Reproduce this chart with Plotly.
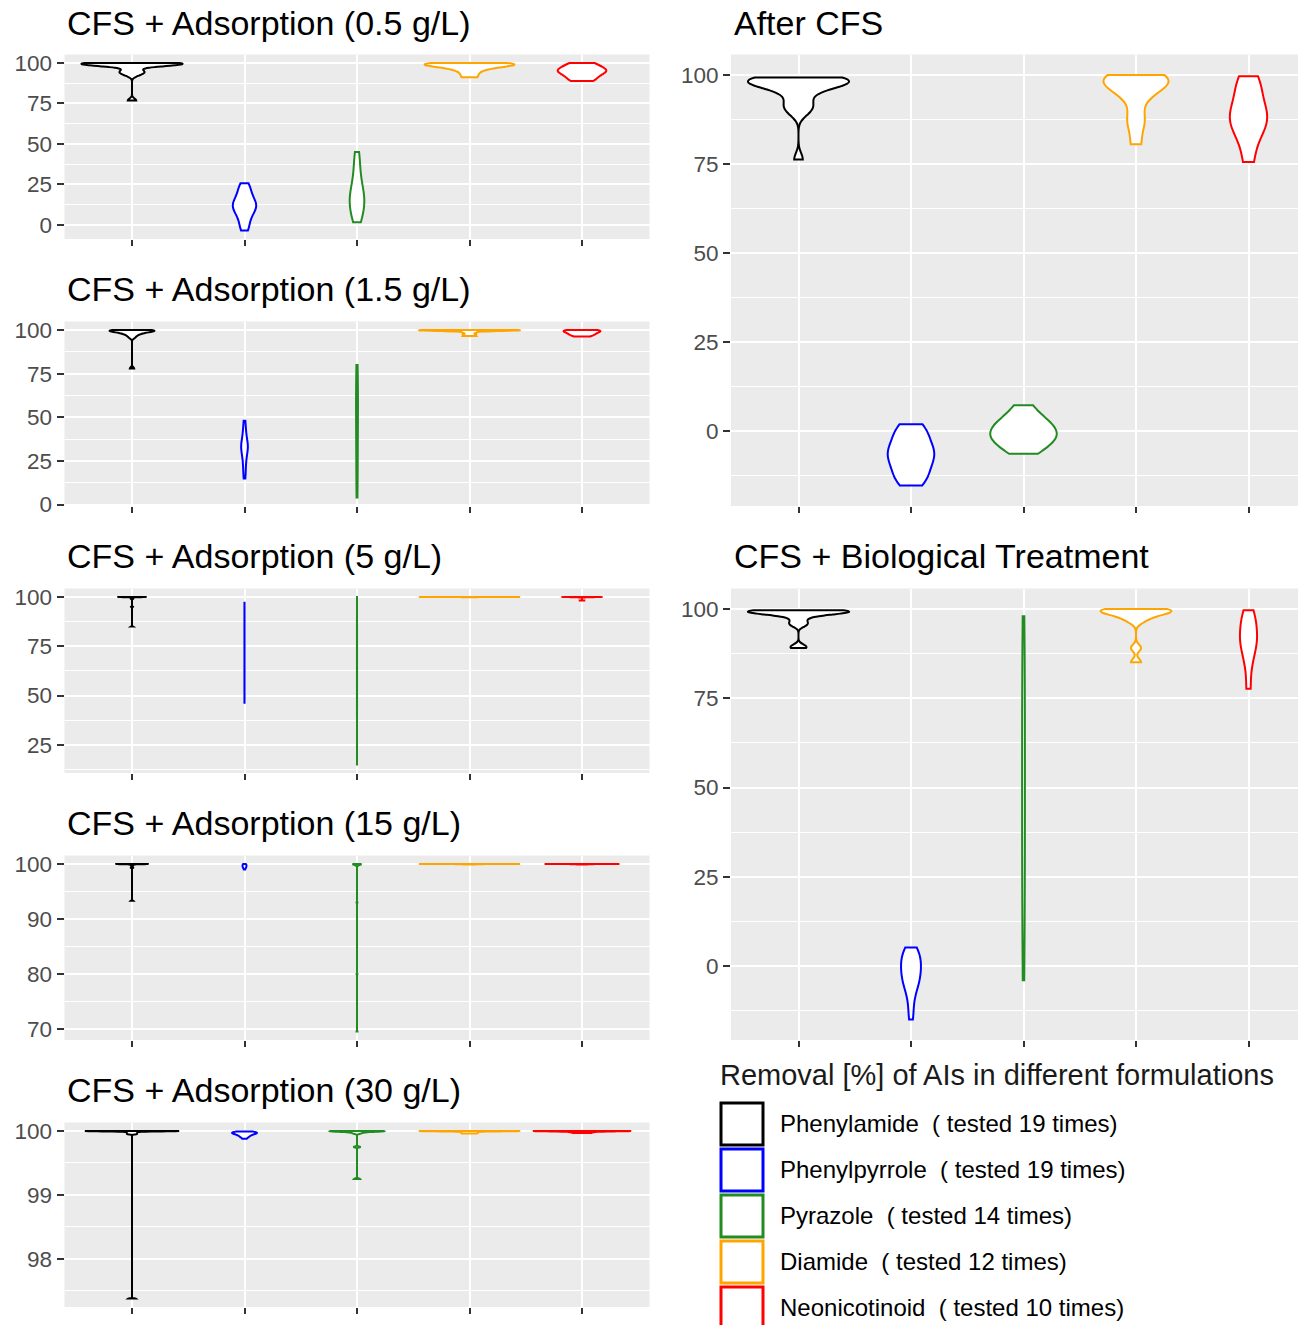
import numpy as np
import plotly.graph_objects as go

# ---------------- data ----------------
groups = ["Phenylamide", "Phenylpyrrole", "Pyrazole", "Diamide", "Neonicotinoid"]
tested = [19, 19, 14, 12, 10]
colors = ["#000000", "#0000FF", "#228B22", "#FFA500", "#FF0000"]
legend_title = "Removal [%] of AIs in different formulations"

titles = ["CFS + Adsorption (0.5 g/L)", "CFS + Adsorption (1.5 g/L)",
          "CFS + Adsorption (5 g/L)", "CFS + Adsorption (15 g/L)",
          "CFS + Adsorption (30 g/L)", "After CFS", "CFS + Biological Treatment"]

y_ticks = [[0, 25, 50, 75, 100], [0, 25, 50, 75, 100], [25, 50, 75, 100],
           [70, 80, 90, 100], [98, 99, 100], [0, 25, 50, 75, 100], [0, 25, 50, 75, 100]]

# Removal [%] per group (Phenylamide, Phenylpyrrole, Pyrazole, Diamide, Neonicotinoid)
ads_0_5 = [
    [100, 100, 100, 100, 99.9, 99.8, 99.7, 99.5, 99.3, 99.1, 98.9, 98.6, 98.2, 97.6, 95.3, 94.6, 93.8, 92.4, 76.8],
    [-3.7, -1.5, 1.5, 4.0, 6.0, 7.5, 9.0, 10.0, 11.0, 11.8, 12.5, 13.5, 14.5, 16.0, 17.5, 19.5, 21.5, 23.5, 25.6],
    [1.4, 4.5, 7.5, 10.0, 12.5, 14.5, 16.5, 18.5, 21.0, 24.0, 28.0, 33.0, 39.0, 45.0],
    [100, 99.9, 99.7, 99.4, 99.0, 98.6, 98.1, 97.5, 96.7, 95.5, 93.5, 91.1],
    [100, 98.8, 97.2, 96.0, 95.3, 94.6, 93.5, 92.0, 90.3, 88.8],
]
ads_1_5 = [
    [100, 100, 100, 99.9, 99.8, 99.7, 99.6, 99.5, 99.3, 99.1, 98.9, 98.7, 98.4, 98.1, 97.7, 97.2, 96.5, 95.5, 78.0],
    [15, 18, 21, 24, 26, 28, 30, 31, 32, 33, 33.5, 34, 35, 36, 38, 40, 42, 45, 48],
    [4, 10, 18, 25, 32, 40, 45, 50, 55, 60, 65, 70, 75, 80],
    [100, 100, 100, 100, 99.9, 99.8, 99.7, 99.55, 99.35, 98.5, 97.5, 96.5],
    [100, 100, 99.7, 99.3, 98.9, 98.5, 98.0, 97.5, 96.9, 96.3],
]
ads_5 = [
    [100, 100, 100, 100, 100, 100, 100, 100, 100, 99.98, 99.96, 99.93, 99.9, 99.85, 99.8, 99.6, 99.0, 95.0, 85.0],
    [46.4, 49, 52, 55, 58, 61, 64, 67, 70, 72, 75, 78, 81, 84, 87, 90, 93, 95, 97.1],
    [15, 22, 30, 38, 46, 54, 60, 64, 68, 75, 82, 90, 96, 100],
    [100, 100, 100, 100, 100, 100, 100, 99.98, 99.96, 99.94, 99.9, 99.85],
    [100, 100, 100, 100, 100, 99.97, 99.93, 99.88, 99.8, 98.2],
]
ads_15 = [
    [100, 100, 100, 100, 100, 100, 100, 100, 100, 100, 99.99, 99.98, 99.96, 99.94, 99.9, 99.85, 99.7, 99.3, 93.3],
    [100, 99.98, 99.95, 99.9, 99.85, 99.8, 99.75, 99.7, 99.65, 99.6, 99.55, 99.5, 99.45, 99.4, 99.35, 99.3, 99.2, 99.1, 99.0],
    [100, 100, 100, 100, 100, 99.98, 99.95, 99.9, 99.85, 99.8, 99.7, 93.0, 80.0, 69.5],
    [100, 100, 100, 100, 100, 100, 100, 99.99, 99.98, 99.97, 99.95, 99.92],
    [100, 100, 100, 100, 100, 100, 99.985, 99.965, 99.935, 99.9],
]
ads_30 = [
    [100, 100, 100, 100, 100, 100, 100, 100, 100, 100, 100, 99.998, 99.994, 99.99, 99.98, 99.97, 99.96, 99.95, 97.38],
    [99.99, 99.99, 99.985, 99.98, 99.98, 99.975, 99.97, 99.97, 99.965, 99.96, 99.955, 99.95, 99.945, 99.94, 99.93, 99.92, 99.91, 99.9, 99.88],
    [100, 100, 100, 100, 100, 99.998, 99.996, 99.993, 99.99, 99.985, 99.975, 99.96, 99.75, 99.25],
    [100, 100, 100, 100, 100, 100, 100, 99.996, 99.99, 99.98, 99.97, 99.96],
    [100, 100, 100, 100, 100, 99.998, 99.993, 99.986, 99.978, 99.968],
]
after_cfs = [
    [99.35, 99.25, 99.1, 98.95, 98.8, 98.6, 98.4, 98.2, 97.9, 97.6, 97.3, 96.9, 96.5, 94.5, 93.0, 91.5, 90.5, 89.5, 76.3],
    [2.0, 1.2, 0.2, -1.0, -2.2, -3.3, -4.3, -5.1, -5.8, -6.5, -7.2, -8.0, -8.9, -9.9, -11.0, -12.2, -13.3, -14.3, -15.2],
    [7.3, 5.0, 3.6, 2.6, 1.7, 0.9, 0.1, -0.7, -1.4, -2.1, -2.9, -3.8, -5.0, -6.3],
    [100, 99.8, 99.4, 99.0, 98.5, 97.8, 96.8, 95.5, 93.5, 88.5, 86.0, 80.6],
    [99.7, 97.5, 94.5, 91.5, 89.5, 88.0, 86.5, 84.5, 81.5, 75.6],
]
cfs_bio = [
    [99.7, 99.65, 99.6, 99.55, 99.5, 99.45, 99.4, 99.3, 99.2, 99.1, 99.0, 98.8, 98.5, 98.0, 97.0, 96.0, 95.5, 89.6, 89.1],
    [5.15, 4.4, 3.65, 2.9, 2.15, 1.4, 0.65, -0.1, -0.85, -1.6, -2.4, -3.2, -4.0, -4.9, -5.8, -6.8, -9.0, -12.0, -15.0],
    [98, 90, 82, 75, 68, 60, 52, 45, 38, 30, 22, 15, 6, -4],
    [100, 99.95, 99.85, 99.7, 99.5, 99.2, 98.8, 98.3, 97.6, 96.5, 89.1, 85.1],
    [99.7, 98, 96, 94, 92.5, 91, 89.5, 87.5, 84, 77.7],
]

panel_data = [ads_0_5, ads_1_5, ads_5, ads_15, ads_30, after_cfs, cfs_bio]

# ---------------- geometry (page pixels; the html body has an 8px margin) ----------------
PAGE_W, PAGE_H = 1306, 1325
M = 8
W, H = PAGE_W - M, PAGE_H - M
FONT = "Liberation Sans, Arial, sans-serif"


def px(x):
    return (x - M) / W


def py(y):
    return 1 - (y - M) / H


UNIT = 112.5  # pixels per category
left_x = (64.5, 649.5)
right_x = (731.0, PAGE_W)
boxes = []
for k in range(5):
    top = 54.6 + 267 * k
    boxes.append((left_x, (top, top + 184.4)))
boxes.append((right_x, (54.6, 506.0)))
boxes.append((right_x, (588.6, 1040.0)))
title_pos = [(65, 23), (65, 289), (65, 556), (65, 823), (65, 1090), (732, 23), (732, 556)]


def nrd0(v):
    v = np.asarray(v, dtype=float)
    hi = v.std(ddof=1)
    q75, q25 = np.percentile(v, [75, 25])
    lo = min(hi, (q75 - q25) / 1.34)
    if lo <= 0:
        lo = hi if hi > 0 else (abs(v[0]) if v[0] != 0 else 1.0)
    return 0.9 * lo * len(v) ** -0.2


fig = go.Figure()
annotations = []
shapes = []
layout = {}

for i, (data, ((x0, x1), (yt, yb)), ticks) in enumerate(zip(panel_data, boxes, y_ticks), start=1):
    sfx = "" if i == 1 else str(i)
    for g, vals in enumerate(data):
        fig.add_trace(go.Violin(
            x=[g + 1] * len(vals), y=vals, orientation="v",
            xaxis="x" + sfx, yaxis="y" + sfx,
            line=dict(color=colors[g], width=2), fillcolor="white",
            points=False, spanmode="hard", bandwidth=nrd0(vals),
            scalegroup=f"panel{i}", scalemode="width",
            name=groups[g], showlegend=False, hoverinfo="y",
        ))
    allv = np.concatenate([np.asarray(d, float) for d in data])
    lo, hi = allv.min(), allv.max()
    pad = 0.05 * (hi - lo)
    yr = [lo - pad, hi + pad]
    step = ticks[1] - ticks[0]
    minors = [t - step / 2 for t in ticks] + [ticks[-1] + step / 2]
    minors = [m for m in minors if yr[0] <= m <= yr[1]]
    xr = [0.4, 0.4 + (x1 - x0) / UNIT]
    layout["xaxis" + sfx] = dict(
        domain=[px(x0), min(px(x1), 1.0)], range=xr, anchor="y" + sfx,
        tickvals=[1, 2, 3, 4, 5], showticklabels=False,
        ticks="outside", ticklen=6, tickwidth=2, tickcolor="#333333",
        showgrid=True, gridcolor="white", gridwidth=2,
        zeroline=False, showline=False, fixedrange=True,
    )
    layout["yaxis" + sfx] = dict(
        domain=[py(yb), py(yt)], range=yr, anchor="x" + sfx,
        tickvals=ticks, ticktext=[str(t) for t in ticks],
        ticks="outside", ticklen=7, tickwidth=2, tickcolor="#333333",
        tickfont=dict(family=FONT, size=22.5, color="#4D4D4D"),
        showgrid=True, gridcolor="white", gridwidth=2,
        minor=dict(tickmode="array", tickvals=minors, showgrid=True,
                   gridcolor="white", gridwidth=1, ticks=""),
        zeroline=False, showline=False, fixedrange=True,
    )
    shapes.append(dict(type="rect", xref="paper", yref="paper", layer="below",
                       x0=px(x0), x1=min(px(x1), 1.0), y0=py(yb), y1=py(yt),
                       fillcolor="#EBEBEB", line=dict(width=0)))
    tx, ty = title_pos[i - 1]
    annotations.append(dict(text=titles[i - 1], x=px(tx), y=py(ty), xref="paper", yref="paper",
                            xanchor="left", yanchor="middle", showarrow=False,
                            font=dict(family=FONT, size=34, color="#000000")))

# legend (drawn manually, ggplot style)
annotations.append(dict(text=legend_title, x=px(718), y=py(1075), xref="paper", yref="paper",
                        xanchor="left", yanchor="middle", showarrow=False,
                        font=dict(family=FONT, size=29, color="#1A1A1A")))
for g in range(5):
    top = 1103 + 46 * g
    shapes.append(dict(type="rect", xref="paper", yref="paper",
                       x0=px(721), x1=px(763), y0=py(top + 42), y1=py(top),
                       fillcolor="white", line=dict(color=colors[g], width=3)))
    label = f"{groups[g]}\u00a0\u00a0(\u00a0tested {tested[g]} times)"
    annotations.append(dict(text=label, x=px(778), y=py(top + 20), xref="paper", yref="paper",
                            xanchor="left", yanchor="middle", showarrow=False,
                            font=dict(family=FONT, size=24, color="#000000")))

fig.update_layout(
    width=W, height=H, margin=dict(l=0, r=0, t=0, b=0, autoexpand=False),
    paper_bgcolor="white", plot_bgcolor="rgba(0,0,0,0)",
    violinmode="overlay", violingap=0.1, violingroupgap=0,
    showlegend=False, annotations=annotations, shapes=shapes,
    font=dict(family=FONT),
    **layout,
)

fig.write_html("out.html")
